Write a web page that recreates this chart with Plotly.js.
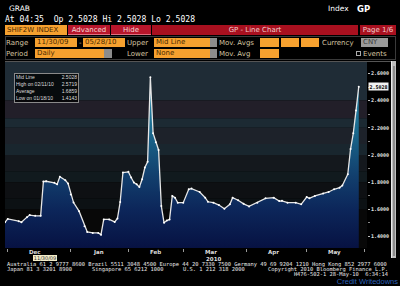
<!DOCTYPE html>
<html>
<head>
<meta charset="utf-8">
<script src="https://cdn.plot.ly/plotly-3.0.1.min.js"></script>
<style>
body{margin:0;background:#000;width:400px;height:286px;overflow:hidden;position:relative;font-family:"DejaVu Sans",sans-serif;}
#chart{position:absolute;left:0;top:0;width:400px;height:286px;}
.o{position:absolute;white-space:pre;pointer-events:none;line-height:1;}
.box{position:absolute;box-sizing:border-box;pointer-events:none;white-space:pre;overflow:hidden;}
</style>
</head>
<body>
<div id="chart"></div>
<div id="ui"></div>
<script>
// ---- data ----
var dates = [
 "2009-11-30","2009-12-01","2009-12-07","2009-12-08","2009-12-10","2009-12-11","2009-12-15","2009-12-17",
 "2009-12-18","2009-12-21","2009-12-24","2009-12-25","2009-12-28","2009-12-30","2009-12-31","2010-01-01",
 "2010-01-04","2010-01-06","2010-01-08","2010-01-11","2010-01-13","2010-01-15","2010-01-18","2010-01-19",
 "2010-01-21","2010-01-25","2010-01-26","2010-01-27","2010-01-28","2010-02-01","2010-02-02","2010-02-03",
 "2010-02-04","2010-02-05","2010-02-08","2010-02-09","2010-02-10","2010-02-11","2010-02-12","2010-02-15",
 "2010-02-16","2010-02-17","2010-02-18","2010-02-19","2010-02-22","2010-02-23","2010-02-24","2010-02-25",
 "2010-03-01","2010-03-03","2010-03-04","2010-03-09","2010-03-11","2010-03-12","2010-03-16","2010-03-18",
 "2010-03-22","2010-03-24","2010-03-25","2010-03-29","2010-03-31","2010-04-02","2010-04-07","2010-04-12",
 "2010-04-15","2010-04-19","2010-04-20","2010-04-22","2010-04-27","2010-04-29","2010-05-03","2010-05-04",
 "2010-05-06","2010-05-11","2010-05-13","2010-05-17","2010-05-19","2010-05-20","2010-05-24","2010-05-25",
 "2010-05-26","2010-05-27","2010-05-28"
];
var values = [
 1.505,1.530,1.513,1.506,1.543,1.558,1.553,1.553,
 1.805,1.807,1.795,1.785,1.840,1.815,1.790,1.710,
 1.650,1.587,1.476,1.434,1.427,1.427,1.4143,1.526,
 1.526,1.508,1.533,1.655,1.871,1.876,1.834,1.797,
 1.785,1.765,1.822,1.908,1.950,2.5719,2.160,2.093,
 2.037,1.624,1.501,1.518,1.526,1.699,1.686,1.649,
 1.649,1.748,1.753,1.728,1.686,1.656,1.649,1.632,
 1.605,1.637,1.686,1.667,1.641,1.622,1.649,1.681,
 1.686,1.661,1.663,1.649,1.649,1.637,1.691,1.681,
 1.699,1.716,1.728,1.748,1.760,1.775,1.859,2.044,
 2.160,2.328,2.5028
];
var yTickVals = [1.4,1.6,1.8,2.0,2.2,2.4,2.6];
var yTickText = ["1.4000","1.6000","1.8000","2.0000","2.2000","2.4000","2.6000"];
var monthKeys = ["2009-12","2010-01","2010-02","2010-03","2010-04","2010-05"];
var monthLabels = ["Dec","Jan","Feb","Mar","Apr","May"];
var lastValue = "2.5028";
var statsLabels = ["Mid Line","High on 02/11/10","Average","Low on 01/18/10"];
var statsValues = ["2.5028","2.5719","1.6859","1.4143"];
var yearLabel = "2010";

// background bands (style)
var bands = [
 [2.40,2.70,"#1f2c36"],[2.27,2.40,"#221f29"],[2.20,2.27,"#1c2a33"],[2.08,2.20,"#1d222a"],
 [2.00,2.08,"#19262e"],[1.88,2.00,"#14181d"],[1.80,1.88,"#111a1e"],[1.68,1.80,"#0e1013"],
 [1.60,1.68,"#0c1114"],[1.30,1.60,"#080808"]
];
var shapes = bands.map(function(b){
  return {type:"rect",xref:"paper",yref:"y",x0:0,x1:1,y0:b[0],y1:b[1],fillcolor:b[2],line:{width:0},layer:"below"};
});

var trace = {
  x: dates, y: values, type:"scatter", mode:"lines+markers",
  line:{color:"#e6e6e6",width:1.3},
  marker:{color:"#ffffff",size:2},
  fill:"tozeroy",
  fillcolor:"#10306a",
  fillgradient:{type:"vertical",start:1.316,stop:2.6,
    colorscale:[[0,"#071242"],[0.22,"#0c265a"],[0.42,"#12406e"],[0.68,"#1b6a8e"],[1,"#2a92b4"]]},
  hoverinfo:"skip"
};

var annotations = monthLabels.map(function(m,i){
  return {xref:"x",yref:"paper",x:monthKeys[i]+"-15",y:-(252-248)/186,xanchor:"center",yanchor:"middle",
    text:m,showarrow:false,font:{family:"DejaVu Sans",size:5.5,color:"#dddddd",weight:"bold"}};
});
annotations.push(
  {xref:"paper",yref:"y",x:1,y:parseFloat(lastValue),xanchor:"left",yanchor:"middle",xshift:1,
   text:lastValue,showarrow:false,bgcolor:"#f2f2f2",borderpad:0.5,
   font:{family:"DejaVu Sans Mono",size:5,color:"#000",weight:"bold"}},
  {xref:"paper",yref:"paper",x:(213-5)/362,y:-(258.5-248)/186,xanchor:"center",yanchor:"middle",
   text:yearLabel,showarrow:false,font:{family:"DejaVu Sans",size:5.5,color:"#dddddd",weight:"bold"}}
);

var layout = {
  width:400,height:286,
  margin:{l:5,r:33,t:62,b:38,pad:0},
  paper_bgcolor:"#000",plot_bgcolor:"#000",
  showlegend:false,
  shapes:shapes,
  annotations:annotations,
  xaxis:{
    type:"date",range:["2009-11-30","2010-06-02"],
    rangebreaks:[{bounds:["sat","mon"]}],
    dtick:"M1",tick0:"2009-12-01",showticklabels:false,
    ticks:"outside",ticklen:3,tickcolor:"#999",
    showgrid:false,zeroline:false,showline:false,fixedrange:true
  },
  yaxis:{
    side:"right",range:[1.316,2.684],
    tickvals:yTickVals,ticktext:yTickText,
    ticks:"outside",ticklen:2,tickcolor:"#bbb",
    minor:{dtick:0.1,tick0:1.3,ticks:"outside",ticklen:2,tickcolor:"#888"},
    tickfont:{family:"DejaVu Sans Mono",size:5,color:"#e0e0e0",weight:"bold"},
    showgrid:false,zeroline:false,showline:false,fixedrange:true
  }
};

Plotly.newPlot("chart",[trace],layout,{staticPlot:true,displayModeBar:false});

// ---- terminal chrome ----
var ui = document.getElementById("ui");
function txt(s,left,top,st){var d=document.createElement("div");d.className="o";d.textContent=s;d.style.left=left+"px";d.style.top=top+"px";if(st)for(var k in st)d.style[k]=st[k];ui.appendChild(d);return d;}
function box(left,top,w,h,bg,st){var d=document.createElement("div");d.className="box";d.style.left=left+"px";d.style.top=top+"px";d.style.width=w+"px";d.style.height=h+"px";d.style.background=bg;if(st)for(var k in st)d.style[k]=st[k];ui.appendChild(d);return d;}
function label(s,l,t,w,h,bg,col,align,extra){var d=box(l,t,w,h,bg,{color:col,fontSize:"7px",lineHeight:h+"px",textAlign:align||"left",paddingLeft:align==="center"?"0":"2px",fontFamily:"DejaVu Sans"});d.textContent=s;if(extra)for(var k in extra)d.style[k]=extra[k];return d;}

txt("GRAB",9,5,{color:"#fff",fontSize:"7.5px",fontFamily:"DejaVu Sans"});
txt("Index",328,5,{color:"#fff",fontSize:"7.5px",fontFamily:"DejaVu Sans"});
txt("GP",357,4.5,{color:"#fff",fontSize:"8.5px",fontWeight:"bold",fontFamily:"DejaVu Sans"});
txt("At 04:35  Op 2.5028 Hi 2.5028 Lo 2.5028",5,15,{color:"#fff",fontSize:"8.1px",fontFamily:"DejaVu Sans Mono"});

// row 1
var OR="#f6a12f", RED="#a8101f", LBL="#d4c4a0", BTXT="#4a2a00";
label("SHIF2W INDEX",5,25,62,10,OR,BTXT,"left");
label("Advanced",68,25,42,10,"#b8162b","#f4d8d8","center",{borderBottom:"1px solid #e07080"});
label("Hide",111,25,40,10,"#b8162b","#f4d8d8","center",{borderBottom:"1px solid #e07080"});
label("GP - Line Chart",152,25,206,10,RED,"#f2cccc","center");
label("Page 1/6",360,25,36,10,RED,"#f2cccc","center");

// rows 2-3 panel
box(5,36,391,24,"#000",{border:"1px solid #3a3a3a"});
txt("Range",6,39.5,{color:LBL,fontSize:"7px"});
label("11/30/09",35,38,42,9,OR,BTXT);
txt("-",79,39.5,{color:LBL,fontSize:"7px"});
label("05/28/10",83,38,42,9,OR,BTXT);
txt("Upper",127,39.5,{color:LBL,fontSize:"7px"});
label("Mid Line",154,38,63,9,OR,BTXT);
box(210,38,7,9,"#8c8c8c");
txt("Mov. Avgs",219,39.5,{color:LBL,fontSize:"7px"});
box(260,38,19,9,OR);box(281,38,18,9,OR);box(301,38,18,9,OR);
txt("Currency",322,39.5,{color:LBL,fontSize:"7px"});
label("CNY",361,38,27,9,"#9a9a9a","#3a3a3a");

txt("Period",6,50.5,{color:LBL,fontSize:"7px"});
label("Daily",35,49,77,9,OR,BTXT);
box(104,49,8,9,"#8c8c8c");
txt("Lower",127,50.5,{color:LBL,fontSize:"7px"});
label("None",154,49,63,9,OR,BTXT);
box(210,49,7,9,"#8c8c8c");
txt("Mov. Avg",219,50.5,{color:LBL,fontSize:"7px"});
box(260,49,19,9,OR);
box(356,51,5,5,"#000",{border:"1px solid #aaa"});
txt("Events",363,50.5,{color:LBL,fontSize:"7px"});

// chart frame / scrollbar
box(5,61,391,1,"#555");
box(391,61,5,197,"#bdbdbd",{borderLeft:"1px solid #e8e8e8"});
box(392.5,66,2,190,"#8a8a8a");

// stats box
box(14,73,65,30,"rgba(0,0,0,0.75)",{border:"1px solid #8a8a8a"});
for(var i=0;i<statsLabels.length;i++){
  txt(statsLabels[i],16,75+i*7,{color:"#dcdcdc",fontSize:"5px",fontFamily:"Liberation Sans"});
  var v=txt(statsValues[i],0,75+i*7,{color:"#dcdcdc",fontSize:"5px",fontFamily:"Liberation Sans"});
  v.style.left="";v.style.right=(400-77)+"px";
}

// date box on axis
label("11/30/09",33,255,24,6,"#f3ecc8","#333","center",{fontSize:"5px",lineHeight:"6px"});

// footer
var F={color:"#e8e8e8",fontSize:"5.4px",fontFamily:"DejaVu Sans Mono"};
txt("Australia 61 2 9777 8600 Brazil 5511 3048 4500 Europe 44 20 7330 7500 Germany 49 69 9204 1210 Hong Kong 852 2977 6000",7,262,F);
txt("Japan 81 3 3201 8900",7,267,F);
txt("Singapore 65 6212 1000",92,267,F);
txt("U.S. 1 212 318 2000",183,267,F);
var c=txt("Copyright 2010 Bloomberg Finance L.P.",0,267,F);c.style.left="";c.style.right="12px";
var h=txt("H476-502-1 28-May-10  6:34:14",0,272,F);h.style.left="";h.style.right="12px";
var cw=txt("Credit Writedowns",0,278,{color:"#2f63b8",fontSize:"7.5px",fontFamily:"Liberation Sans"});cw.style.left="";cw.style.right="2px";
</script>
</body>
</html>
